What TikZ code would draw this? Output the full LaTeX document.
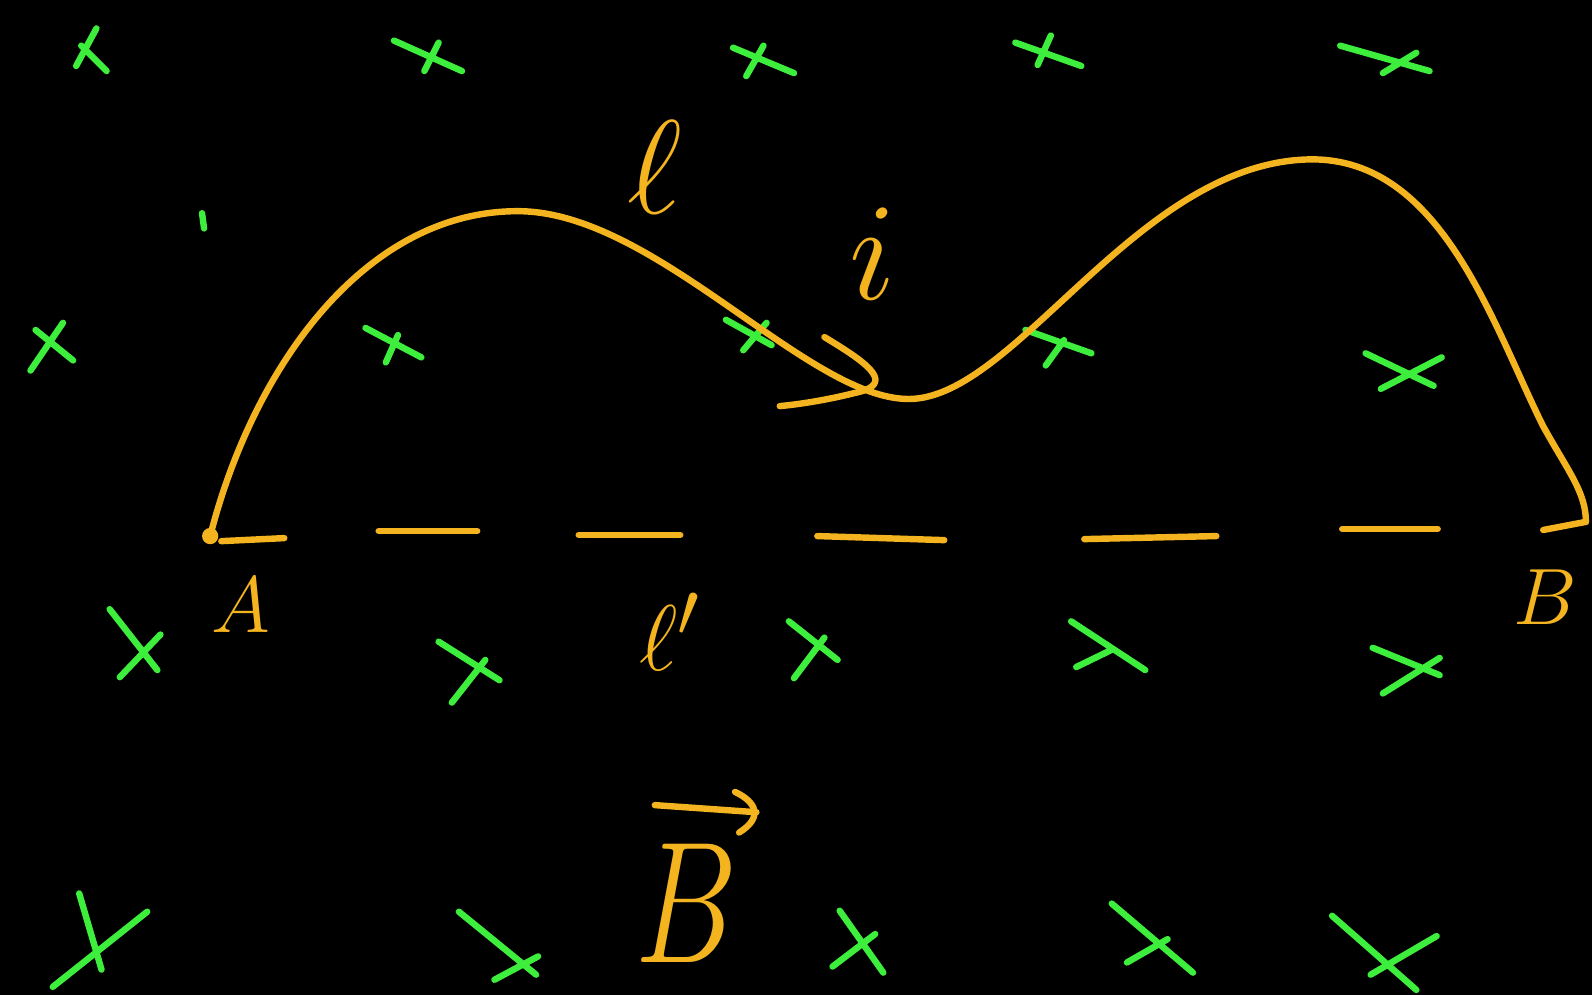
\documentclass[tikz,border=0pt]{standalone}
\usepackage{amsmath}
\definecolor{pen}{HTML}{F4B420}
\definecolor{fld}{HTML}{3DEE3D}
\tikzset{
  cross/.style={draw=fld,line width=1.8pt,line cap=round},
  wire/.style={draw=pen,line width=1.8pt,line cap=round,line join=round},
  lab/.style={text=pen,inner sep=0pt,font=\Huge}
}
\begin{document}
\begin{tikzpicture}[x=0.01cm,y=-0.01cm]
\fill[black] (0,0) rectangle (1568,980);
\useasboundingbox (0,0) rectangle (1568,980);
% green crosses (magnetic field into the page)
\foreach \a/\b/\c/\d/\e/\f/\g/\h in {
 75/65/95/28/80/45/105/70,
 388/40/455/70/418/70/432/42,
 722/47/782/72/735/75/752/45,
 1000/42/1065/65/1022/64/1035/35,
 1320/45/1408/70/1362/72/1395/52,
 30/365/62/318/35/325/72/355,
 360/323/415/352/380/357/392/330,
 715/315/760/340/732/345/755/318,
 1010/325/1075/348/1030/360/1048/335,
 1345/348/1412/380/1360/383/1420/352,
 108/600/155/660/118/667/158/625,
 432/632/492/670/445/692/478/650,
 777/612/825/650/782/668/812/628,
 1055/612/1128/660/1060/657/1095/640,
 1352/638/1418/665/1362/683/1418/648,
 78/880/100/955/52/972/145/898,
 452/898/528/960/487/965/530/942,
 827/897/870/958/820/952/862/920,
 1095/890/1175/958/1110/948/1150/925,
 1312/902/1395/975/1350/960/1415/922}
 {\draw[cross] (\a,\b) -- (\c,\d) (\e,\f) -- (\g,\h);}
\draw[cross] (199,210) -- (201,225);
% curve l from A to B
\coordinate (A) at (207,528);
\coordinate (Bp) at (1562,514);
\draw[wire] (A) .. controls (250,360) and (360,208) .. (510,208)
  .. controls (645,208) and (795,393) .. (895,393)
  .. controls (1000,393) and (1120,160) .. (1290,157)
  .. controls (1420,155) and (1470,320) .. (1520,420)
  .. controls (1545,465) and (1562,485) .. (Bp);
\fill[pen] (A) circle (8);
% direction chevron
\draw[wire] (812,332) .. controls (850,355) and (880,375) .. (850,385) .. controls (820,393) and (790,398) .. (768,400);
% straight path l' (dashed)
\draw[wire] (218,533) -- (280,530);
\draw[wire] (373,523) -- (470,523);
\draw[wire] (570,527) -- (670,527);
\draw[wire] (805,528) -- (930,532);
\draw[wire] (1068,531) -- (1198,528);
\draw[wire] (1322,521) -- (1416,521);
\draw[wire] (1520,522) -- (Bp);
% labels
\node[lab] (la) at (237,596) {\scalebox{0.9}{$A$}};
\node[lab] (lb) at (1522,588) {\scalebox{0.9}{$B$}};
\node[lab] (ll) at (645,165) {\scalebox{1.5}{$\ell$}};
\node[lab] (li) at (860,250) {\scalebox{1.57}{$i$}};
\node[lab] (llp) at (660,622) {\scalebox{1.05}{$\ell'$}};
\node[lab] (lvb) at (676,890) {\scalebox{1.45}[1.95]{$B$}};
% vector arrow over the field label
\coordinate (vs) at (645,793);
\coordinate (ve) at (745,800);
\draw[wire] (vs) -- (ve);
\draw[wire] (724,780) .. controls (745,790) and (752,805) .. (728,820);
\end{tikzpicture}
\end{document}
